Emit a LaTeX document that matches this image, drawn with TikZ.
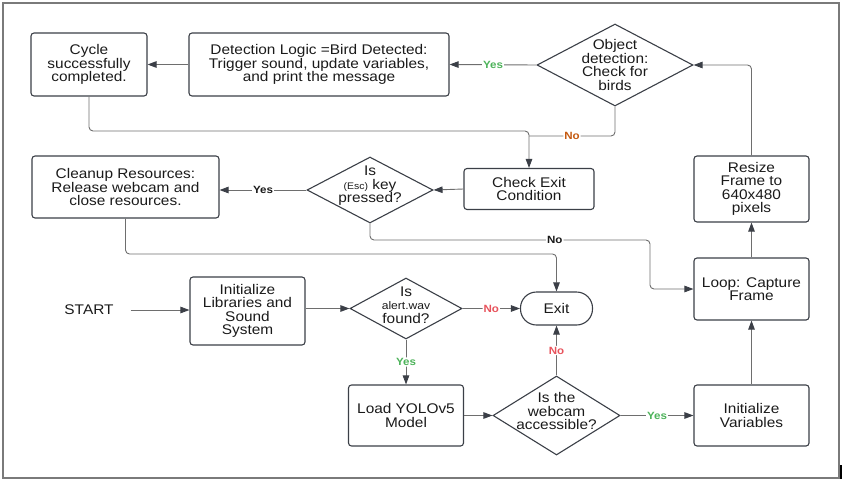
\documentclass[tikz,border=0pt]{standalone}
\usepackage{fontspec}
\setmainfont{Liberation Sans}[FakeStretch=1.1]
\usetikzlibrary{shapes.geometric,arrows.meta}
\definecolor{boxc}{HTML}{3B3F47}
\definecolor{linec}{HTML}{6E6E6E}
\definecolor{arrc}{HTML}{3B3F47}
\definecolor{txtc}{HTML}{1A1A1A}
\definecolor{framec}{HTML}{7A7A7A}
\definecolor{yesc}{HTML}{4DB35A}
\definecolor{noorange}{HTML}{C55A11}
\definecolor{nored}{HTML}{E8535C}
\newcommand\fmain{\fontsize{14}{13.4}\selectfont}
\newcommand\flbl{\bfseries\fontsize{10.5}{11}\selectfont}
\newcommand\fesc{\fontsize{9.5}{10}\selectfont}
\newcommand\falert{\fontsize{11}{11}\selectfont}
\tikzset{
  base/.style={text=txtc, font=\fmain, align=center, inner sep=0pt},
  box/.style={base, draw=boxc, line width=1.1pt, rounded corners=3pt},
  dia/.style={draw=boxc, line width=1.1pt, diamond, inner sep=0pt},
  term/.style={box, rounded corners=16pt},
  conn/.style={draw=linec, line width=0.9pt, rounded corners=4pt},
  arr/.style={conn, -{Triangle[length=9pt,width=6.5pt,color=arrc]}},
  lbl/.style={fill=white, inner sep=1pt, font=\flbl},
  yeslbl/.style={lbl, text=yesc},
  noolbl/.style={lbl, text=noorange},
  norlbl/.style={lbl, text=nored},
  blklbl/.style={lbl, text=txtc}
}
\begin{document}
\begin{tikzpicture}[x=1pt,y=-1pt]
\useasboundingbox (0,0) rectangle (843,482);
\draw[draw=framec, line width=2pt] (2.5,3) rectangle (838.5,478);
\draw[black, line width=2pt] (840.5,465) -- (840.5,479);

% boxes
\node[box, minimum width=116pt, minimum height=63pt] (cyc) at (89,64.5) {Cycle\\successfully\\completed.};
\node[box, minimum width=260pt, minimum height=63pt] (det) at (319,64.5) {Detection Logic =Bird Detected:\\Trigger sound, update variables,\\and print the message};
\node[dia, minimum width=156pt, minimum height=82pt] (obj) at (615,65) {};
\node[base] (objT) at (615,65) {Object\\detection:\\Check for\\birds};

\node[box, minimum width=187pt, minimum height=62pt] (clean) at (125.5,187) {Cleanup Resources:\\Release webcam and\\close resources.};
\node[dia, minimum width=126pt, minimum height=66pt] (esc) at (370,190) {};
\node[base] (escT) at (370,186) {Is\\{\fesc (Esc)} key\\pressed?};
\node[box, minimum width=130pt, minimum height=41pt] (chk) at (529,189) {Check Exit\\Condition};

\node[box, minimum width=115pt, minimum height=66pt] (resize) at (751.5,189) {Resize\\Frame to\\640x480\\pixels};
\node[box, minimum width=115pt, minimum height=62pt] (loop) at (751.5,289) {Loop: Capture\\Frame};
\node[box, minimum width=115pt, minimum height=61pt] (initv) at (751.5,415.5) {Initialize\\Variables};

\node[base] (start) at (89,310) {START};
\node[box, minimum width=115pt, minimum height=68pt] (initlib) at (247.5,311) {Initialize\\Libraries and\\Sound\\System};
\node[dia, minimum width=112pt, minimum height=61pt] (alert) at (406,308.5) {};
\node[base] (alertT) at (406,305) {Is\\{\falert alert.wav}\\found?};
\node[term, minimum width=72pt, minimum height=33pt] (exit) at (556.5,308.5) {Exit};

\node[box, minimum width=115pt, minimum height=61pt] (load) at (406,415.5) {Load YOLOv5\\Model};
\node[dia, minimum width=127pt, minimum height=79pt] (web) at (556.5,415.5) {};
\node[base] (webT) at (556.5,411) {Is the\\webcam\\accessible?};

% connectors
\coordinate (j1) at (529,131);
\coordinate (j2) at (529,136);
\coordinate (c3) at (556.5,254);
\coordinate (c4) at (650,240);

\draw[arr] (det.west) -- (cyc.east);
\draw[arr] (obj.west) -- node[yeslbl]{Yes} (det.east);
\draw[arr] (resize.north) |- (obj.east);
\draw[arr] (cyc.south) |- (j1) -- (chk.north);
\draw[conn] (obj.south) |- node[pos=.75, noolbl]{No} (j2);
\draw[arr] (chk.west) -- (esc.east);
\draw[arr] (esc.west) -- node[blklbl]{Yes} (clean.east|-esc.west);
\draw[arr] (clean.south) |- (c3) -- (exit.north);
\draw[arr] (esc.south) |- node[pos=.83, blklbl]{No} (c4) |- (loop.west);
\draw[arr, shorten <=17pt] (start.east) -- (initlib.west|-start.east);
\draw[arr] (initlib.east|-alert.west) -- (alert.west);
\draw[arr] (alert.east) -- node[norlbl]{No} (exit.west);
\draw[arr] (alert.south) -- node[yeslbl]{Yes} (load.north);
\draw[arr] (load.east) -- (web.west);
\draw[arr] (web.north) -- node[norlbl]{No} (exit.south);
\draw[arr] (web.east) -- node[yeslbl]{Yes} (initv.west);
\draw[arr] (initv.north) -- (loop.south);
\draw[arr] (loop.north) -- (resize.south);
\end{tikzpicture}
\end{document}
